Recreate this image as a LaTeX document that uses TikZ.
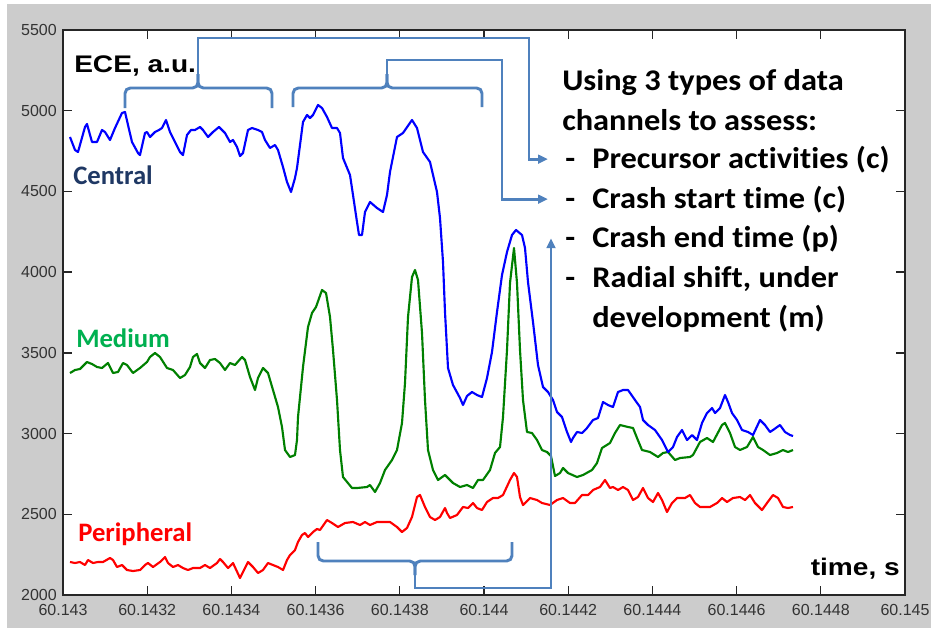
\documentclass[tikz,border=0pt]{standalone}
\usepackage{fontspec}
\setmainfont{Liberation Sans}
\newfontfamily\calibri[Ligatures=NoCommon]{Carlito}
\newfontfamily\calibriwide[FakeStretch=1.08,Ligatures=NoCommon]{Carlito}
\newfontfamily\widearial[FakeStretch=1.17]{Liberation Sans}
\usetikzlibrary{arrows.meta}
\definecolor{figgray}{RGB}{204,204,204}
\definecolor{linkblue}{RGB}{79,129,189}
\definecolor{navy}{RGB}{31,56,100}
\definecolor{officegreen}{RGB}{0,176,80}
\definecolor{matgreen}{RGB}{0,128,0}
\definecolor{matblue}{RGB}{0,0,255}
\definecolor{matred}{RGB}{255,0,0}
\tikzstyle{brace} = [draw=linkblue, line width=2.2pt, rounded corners=4pt]
\tikzstyle{link} = [draw=linkblue, line width=2.2pt, -{Triangle[length=7.5pt,width=6.5pt]}]
\tikzstyle{trace} = [line width=1.6pt, line join=round]
\tikzstyle{ticklabel} = [font=\fontsize{12}{14}\selectfont, text=black!80, inner sep=0pt]
\tikzstyle{axlabel} = [font=\widearial\bfseries\fontsize{18}{22}\selectfont, inner sep=0pt]
\tikzstyle{curvelabel} = [font=\calibri\bfseries\fontsize{20}{24}\selectfont, anchor=base west, inner sep=0pt]
\tikzstyle{listline} = [font=\calibriwide\bfseries\fontsize{22.5}{26}\selectfont, anchor=base west, inner sep=0pt]

\begin{document}
\begin{tikzpicture}[x=0.75pt, y=-0.75pt]
        \useasboundingbox (0,0) rectangle (931,628);
        \fill[white] (0,0) rectangle (931,628);
        \fill[figgray] (7,4) rectangle (931,628);
        \fill[white] (63,30) rectangle (905,595);

        % traces
        \draw[trace, matred] plot coordinates {(70,562) (75,563) (80,562) (85,565) (88,560) (93,563) (98,562) (103,562) (110,558) (113,560) (117,567) (122,565) (127,570) (133,571) (140,570) (145,565) (148,563) (153,567) (160,562) (165,557) (168,563) (173,567) (178,565) (183,568) (188,570) (193,568) (200,568) (205,565) (210,568) (217,563) (220,559) (223,562) (228,568) (233,563) (240,578) (243,572) (248,562) (253,567) (258,573) (263,570) (268,563) (273,565) (278,567) (283,570) (287,560) (290,555) (295,550) (298,542) (302,535) (305,533) (308,537) (313,532) (317,529) (320,530) (327,520) (332,523) (338,527) (345,523) (353,522) (360,525) (365,522) (370,525) (377,522) (390,522) (397,527) (402,532) (407,528) (412,517) (417,497) (420,495) (425,507) (430,517) (435,520) (440,517) (445,508) (447,513) (450,518) (457,515) (463,507) (468,508) (473,503) (477,508) (482,510) (487,502) (493,498) (498,498) (503,495) (510,480) (514,473) (517,477) (520,497) (523,505) (530,498) (537,500) (542,503) (550,505) (557,500) (563,498) (570,503) (575,503) (582,495) (588,495) (593,490) (600,487) (605,480) (610,488) (613,487) (618,490) (623,487) (628,490) (633,500) (638,497) (643,488) (648,498) (653,502) (658,493) (662,500) (667,512) (672,503) (677,498) (685,498) (690,495) (695,503) (700,507) (710,507) (717,503) (722,498) (727,502) (733,498) (740,497) (745,500) (750,495) (755,503) (762,510) (767,503) (773,495) (778,498) (783,507) (788,508) (793,507)};
        \draw[trace, matgreen] plot coordinates {(70,373) (75,370) (80,369) (87,362) (92,364) (97,367) (102,368) (108,363) (113,373) (118,372) (123,363) (127,365) (133,373) (140,368) (147,362) (150,357) (155,353) (160,357) (167,368) (173,370) (180,378) (185,375) (190,367) (193,357) (197,354) (200,363) (205,368) (210,360) (215,359) (220,363) (225,370) (230,363) (235,365) (242,357) (245,360) (250,377) (255,390) (258,378) (263,368) (268,373) (273,390) (278,407) (282,427) (285,450) (290,457) (295,455) (297,440) (298,417) (303,367) (308,327) (312,313) (316,307) (322,290) (326,293) (330,317) (333,350) (337,400) (340,450) (343,477) (352,488) (357,488) (367,487) (370,485) (375,492) (380,483) (385,470) (392,460) (397,450) (402,423) (405,383) (408,317) (412,277) (415,270) (418,280) (422,333) (425,400) (428,450) (433,470) (438,480) (445,475) (453,483) (460,487) (467,485) (473,488) (478,480) (483,480) (490,470) (495,453) (500,447) (503,417) (507,350) (510,283) (514,248) (517,283) (520,350) (523,400) (527,432) (532,433) (537,440) (542,450) (547,452) (551,456) (555,476) (560,473) (563,468) (568,473) (577,477) (583,475) (592,470) (597,463) (602,448) (610,443) (615,433) (620,425) (628,427) (633,428) (637,438) (642,450) (650,452) (658,457) (663,453) (668,452) (675,460) (680,458) (690,457) (693,455) (700,442) (707,438) (713,442) (722,425) (725,423) (730,433) (735,447) (740,450) (747,447) (753,437) (758,447) (763,450) (770,455) (777,453) (783,450) (788,452) (793,450)};
        \draw[trace, matblue] plot coordinates {(70,137) (75,150) (78,152) (85,127) (87,124) (92,142) (97,142) (102,130) (105,132) (110,140) (115,128) (122,113) (125,112) (128,125) (132,142) (138,153) (140,155) (145,133) (147,132) (150,137) (155,132) (159,130) (162,128) (166,120) (170,132) (175,142) (180,152) (183,155) (187,135) (191,130) (195,130) (200,127) (203,130) (208,137) (213,132) (219,127) (225,133) (230,142) (233,140) (237,147) (240,156) (243,153) (248,130) (252,128) (258,130) (262,132) (265,140) (270,148) (275,145) (278,150) (283,167) (287,182) (291,192) (295,178) (297,168) (300,145) (303,122) (307,115) (310,118) (313,115) (318,105) (322,108) (327,117) (332,128) (337,128) (340,133) (343,158) (350,175) (353,195) (357,222) (359,235) (362,235) (365,212) (370,202) (377,208) (383,212) (387,195) (390,172) (397,137) (403,133) (412,120) (417,128) (423,152) (430,162) (437,192) (440,218) (443,262) (445,312) (448,368) (453,385) (460,398) (463,405) (467,396) (472,392) (477,395) (482,397) (487,378) (492,352) (497,312) (502,275) (507,252) (512,235) (516,230) (522,235) (525,248) (528,282) (533,322) (538,365) (543,387) (548,392) (553,400) (557,412) (562,417) (567,432) (571,442) (573,438) (577,432) (582,433) (587,428) (593,420) (598,418) (603,402) (608,405) (613,407) (618,392) (623,390) (628,390) (635,400) (640,407) (643,420) (648,425) (655,430) (662,440) (668,452) (673,447) (677,437) (682,430) (687,440) (692,435) (697,440) (702,423) (707,413) (712,408) (715,413) (720,408) (725,395) (728,402) (732,413) (737,420) (742,430) (748,432) (753,435) (760,420) (765,425) (770,432) (773,430) (780,425) (785,432) (790,435) (793,436)};

        % axes
        \draw[line width=1.1pt, black!85] (63,30) rectangle (905,595);
        \foreach \i in {1,...,9} {
            \draw[line width=1pt, black!85] (63+\i*84.2,595) -- ++(0,-9);
            \draw[line width=1pt, black!85] (63+\i*84.2,30) -- ++(0,9);
        }
        \foreach \i in {1,...,6} {
            \draw[line width=1pt, black!85] (63,595-\i*80.71) -- ++(9,0);
            \draw[line width=1pt, black!85] (905,595-\i*80.71) -- ++(-9,0);
        }
        \foreach \lab [count=\i from 0] in {60.143,60.1432,60.1434,60.1436,60.1438,60.144,60.1442,60.1444,60.1446,60.1448,60.145}
            \node[ticklabel] (xl\i) at (63+\i*84.2,610) {\lab};
        \foreach \v [count=\i from 0] in {2000,2500,...,5500}
            \node[ticklabel, anchor=east] (yl\i) at (57,595-\i*80.71) {\v};

        % labels
        \node[axlabel, anchor=base west] (ece) at (74,72) {ECE, a.u.};
        \node[axlabel, anchor=base east] (time) at (900,575) {time, s};
        \node[curvelabel, text=navy] (central) at (73,184) {Central};
        \node[curvelabel, text=officegreen] (medium) at (76,347) {Medium};
        \node[curvelabel, text=matred] (peripheral) at (78,541) {Peripheral};

        \node[listline] (using) at (562,90) {Using 3 types of data};
        \node[listline] (channels) at (562,130) {channels to assess:};
        \node[listline] (precursor) at (565,168) {\makebox[20.25pt][l]{-}Precursor activities (c)};
        \node[listline] (crashstart) at (565,208) {\makebox[20.25pt][l]{-}Crash start time (c)};
        \node[listline] (crashend) at (565,247) {\makebox[20.25pt][l]{-}Crash end time (p)};
        \node[listline] (radial) at (565,287) {\makebox[20.25pt][l]{-}Radial shift, under};
        \node[listline] (develop) at (592,327) {development (m)};

        % braces and links
        \coordinate (b1tip) at (198,88);
        \coordinate (b2tip) at (387,88);
        \coordinate (b3tip) at (415,561);
        \coordinate (b3turn) at (551,588);
        \draw[brace] (125,108) |- (b1tip) -- ++(0,-14);
        \draw[brace] (272,108) |- (b1tip) -- ++(0,-14);
        \draw[link, shorten >=12.75pt] (b1tip) ++(0,-10) |- (529,38) |- (precursor.west);
        \draw[brace] (293,107) |- (b2tip) -- ++(0,-14);
        \draw[brace] (482,107) |- (b2tip) -- ++(0,-14);
        \draw[link, shorten >=12.75pt] (b2tip) ++(0,-10) |- (502,60) |- (crashstart.west);
        \draw[brace] (318,542) |- (b3tip) -- ++(0,14);
        \draw[brace] (512,542) |- (b3tip) -- ++(0,14);
        \draw[link] (b3tip) ++(0,10) |- (b3turn) -- (b3turn |- crashend.west);
\end{tikzpicture}
\end{document}
